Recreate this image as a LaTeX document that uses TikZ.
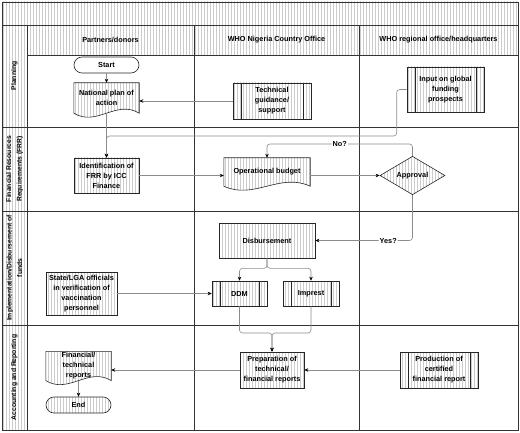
\documentclass[tikz,border=0pt]{standalone}
\usepackage{fontspec}
\setmainfont{Liberation Sans}
\usetikzlibrary{arrows.meta,
  calc,
  positioning,
  shapes.geometric,
  patterns,
  backgrounds
}
\newcommand\flowfont{\fontsize{7.3}{10}\selectfont\bfseries}
\newcommand\rowfont{\fontsize{6.8}{10.5}\selectfont\bfseries}
\def\subgap{8pt}
\def\wave{14}

\tikzset{
  stripes/.style={pattern=vertical lines, pattern color=black!20},
  lane/.style={draw=black!80, line width=0.8pt},
  lanetitle/.style={font=\flowfont, align=center},
  rowtitle/.style={font=\rowfont, align=center, rotate=90},
  outline/.style={draw=black!85, line width=0.6pt, align=center, inner sep=1pt, font=\flowfont},
  box/.style={outline, stripes},
  term/.style={outline, rounded corners=8pt, minimum width=65pt, minimum height=16pt},
  subproc/.style={box, path picture={
    \draw[black!85, line width=0.6pt]
      ([xshift=\subgap]path picture bounding box.north west) -- ([xshift=\subgap]path picture bounding box.south west)
      ([xshift=-\subgap]path picture bounding box.north east) -- ([xshift=-\subgap]path picture bounding box.south east);}},
  doc/.style={align=center, inner sep=1pt, font=\flowfont},
  decision/.style={box, diamond, inner sep=0pt},
  conn/.style={draw=black!45, line width=0.6pt, rounded corners=3pt},
  arr/.style={conn, -{Stealth[length=4pt, width=3.5pt, color=black]}},
  tag/.style={fill=white, inner sep=1pt, font=\flowfont},
}

\newcommand\docoutline[1]{%
  \draw[outline, stripes] (#1.south west) -- (#1.north west) -- (#1.north east) -- (#1.south east)
    .. controls ($(#1.south east)!0.35!(#1.south west)+(0,\wave)$) and ($(#1.south east)!0.65!(#1.south west)+(0,-\wave)$) .. (#1.south west) -- cycle;}

\begin{document}
\begin{tikzpicture}[x=1pt, y=1pt]
  \useasboundingbox (0,0) rectangle (520,432);

  % lanes
  \fill[stripes] (2,407) rectangle (518,430);
  \fill[stripes] (2,2) rectangle (27,407);
  \fill[stripes] (27,377) rectangle (518,407);
  \draw[lane] (2,2) rectangle (518,430);
  \draw[lane] (2,407) -- (518,407);
  \draw[lane] (27,377) -- (518,377);
  \foreach \y in {305,221,107} \draw[lane] (2,\y) -- (518,\y);
  \foreach \x in {27,194,359} \draw[lane] (\x,2) -- (\x,407);

  \node[lanetitle] (hpartners) at (110.5,392) {Partners/donors};
  \node[lanetitle] (hcountry) at (276.5,392) {WHO Nigeria Country Office};
  \node[lanetitle] (hregional) at (438.5,392) {WHO regional office/headquarters};

  \node[rowtitle] (rplan) at (14.5,356) {Planning};
  \node[rowtitle] (rfrr) at (14.5,263) {Financial Resources\\Requirements (FRR)};
  \node[rowtitle] (rimpl) at (14.5,164) {Implementation/Disbursement of\\funds};
  \node[rowtitle] (racct) at (14.5,54.5) {Accounting and Reporting};

  % Planning
  \node[term] (start) at (106.5,367) {Start};
  \node[doc, minimum width=65pt, minimum height=30pt] (natplan) at (106.5,334) {National plan of\\action};
  \node[subproc, minimum width=78pt, minimum height=36pt] (guide) at (272,331) {Technical\\guidance/\\support};
  \node[subproc, minimum width=77pt, minimum height=45pt] (funding) at (445.5,342.5) {Input on global\\funding\\prospects};

  % FRR
  \node[box, minimum width=65pt, minimum height=35pt] (ident) at (106.5,256.5) {Identification of\\FRR by ICC\\Finance};
  \node[doc, minimum width=86pt, minimum height=28pt] (budget) at (267,260) {Operational budget};
  \node[decision, minimum width=65pt, minimum height=35pt] (approval) at (412.5,256.5) {Approval};

  % Implementation
  \node[box, minimum width=96pt, minimum height=35pt] (disburse) at (267,191.5) {Disbursement};
  \node[box, minimum width=71pt, minimum height=43pt] (officials) at (81.5,138.5) {State/LGA officials\\in verification of\\vaccination\\personnel};
  \node[subproc, minimum width=55pt, minimum height=25pt] (ddm) at (239.5,138.5) {DDM};
  \node[subproc, minimum width=56pt, minimum height=25pt] (imprest) at (311,138.5) {Imprest};

  % Accounting
  \node[box, minimum width=64pt, minimum height=36pt] (prep) at (272,62) {Preparation of\\technical/\\financial reports};
  \node[subproc, minimum width=78pt, minimum height=36pt] (certified) at (439,62) {Production of\\certified\\financial report};
  \node[doc, minimum width=65pt, minimum height=28pt] (reports) at (78.5,66) {Financial/\\technical\\reports};
  \node[term, stripes] (finish) at (78.5,27) {End};

  \begin{scope}[on background layer]
    \docoutline{natplan}
    \docoutline{budget}
    \docoutline{reports}
  \end{scope}

  % flow
  \draw[arr] (start) -- (natplan);
  \draw[arr] (guide.west) -- (guide.west -| natplan.east);
  \coordinate (fundbend) at (106.5,296);
  \draw[arr] (funding.west) -- ++(-10,0) |- (fundbend) -- (ident.north);
  \draw[arr] (natplan.south) -- (ident.north);
  \draw[arr] (ident.east) -- (ident.east -| budget.west);
  \draw[arr] (budget.east |- approval.west) -- (approval.west);
  \draw[arr] (approval.north) -- ++(0,12) -| node[tag, pos=0.25] {No?} (budget.north);
  \draw[arr] (approval.south) |- node[tag, pos=0.625] {Yes?} (disburse.east);
  \draw[arr] (disburse.south) -- ++(0,-10) -| (ddm.north);
  \draw[arr] (disburse.south) -- ++(0,-10) -| (imprest.north);
  \draw[arr] (officials.east) -- (ddm.west);
  \coordinate (prepjoin) at (272,99);
  \draw[arr] (ddm.south) |- (prepjoin) -- (prep.north);
  \draw[arr] (imprest.south) |- (prepjoin) -- (prep.north);
  \draw[arr] (certified.west) -- (prep.east);
  \draw[arr] (prep.west) -- (prep.west -| reports.east);
  \draw[arr] (reports.south) -- (finish.north);
\end{tikzpicture}
\end{document}
